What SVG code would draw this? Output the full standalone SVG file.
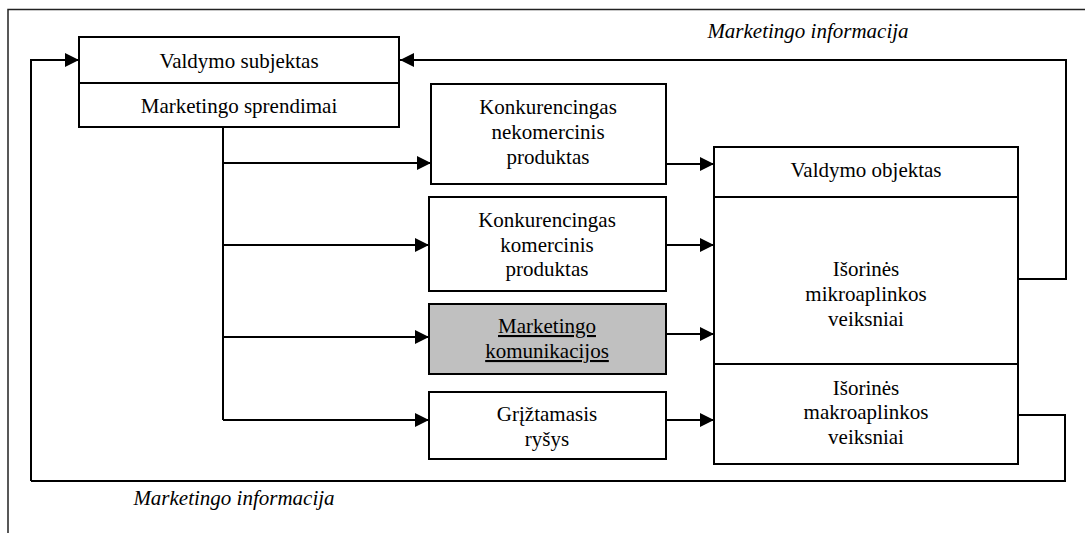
<svg xmlns="http://www.w3.org/2000/svg" width="1085" height="533" viewBox="0 0 1085 533">
<defs>
<style>
.box{fill:#fff;stroke:#000;stroke-width:2}
.gray{fill:#c0c0c0;stroke:#000;stroke-width:2}
.div{stroke:#000;stroke-width:2;fill:none}
.t{font-size:21px;fill:#000;text-anchor:middle}
.it{font-size:21px;font-style:italic;fill:#000;text-anchor:middle}
.c{stroke:#000;stroke-width:2;fill:none}
.a{stroke:#000;stroke-width:2;fill:none;marker-end:url(#ah)}
.frame{stroke:#222;stroke-width:1.5;fill:none}
</style>
<marker id="ah" markerUnits="userSpaceOnUse" markerWidth="14" markerHeight="14" refX="14" refY="7" orient="auto">
<path d="M0,0 L14,7 L0,14 z" fill="#000"/>
</marker>
</defs>
<rect width="1085" height="533" fill="#fff"/>
<path class="frame" d="M8,533 L8,9.5 L1085,9.5"/>

<g id="connectors">
<path class="a" d="M31,481 L31,60 L79,60"/>
<path class="c" d="M1016,415 L1065,415 L1065,481 L31,481"/>
<path class="a" d="M1018,279 L1066,279 L1066,60 L400,60"/>
<path class="c" d="M223,127 L223,420"/>
<path class="a" d="M223,163 L431,163"/>
<path class="a" d="M223,245 L429,245"/>
<path class="a" d="M223,337 L429,337"/>
<path class="a" d="M223,420 L429,420"/>
<path class="a" d="M666,164 L714,164"/>
<path class="a" d="M666,245 L714,245"/>
<path class="a" d="M666,334 L714,334"/>
<path class="a" d="M666,420 L714,420"/>
</g>

<g font-family="'Liberation Serif', 'Times New Roman', 'DejaVu Serif', serif">
<g id="subjektas">
<rect class="box" x="79" y="37" width="320" height="90"/>
<line class="div" x1="79" y1="83" x2="399" y2="83"/>
<text class="t" x="239" y="68">Valdymo subjektas</text>
<text class="t" x="239" y="113">Marketingo sprendimai</text>
</g>

<g id="nekomercinis">
<rect class="box" x="431" y="84" width="235" height="100"/>
<text class="t" x="548" y="114">Konkurencingas</text>
<text class="t" x="548" y="139">nekomercinis</text>
<text class="t" x="548" y="164">produktas</text>
</g>

<g id="komercinis">
<rect class="box" x="429" y="197" width="237" height="94"/>
<text class="t" x="547" y="227">Konkurencingas</text>
<text class="t" x="547" y="252">komercinis</text>
<text class="t" x="547" y="276">produktas</text>
</g>

<g id="komunikacijos">
<rect class="gray" x="429" y="304" width="237" height="70"/>
<text class="t" x="547" y="333" text-decoration="underline">Marketingo</text>
<text class="t" x="547" y="358" text-decoration="underline">komunikacijos</text>
</g>

<g id="grizt">
<rect class="box" x="429" y="392" width="237" height="67"/>
<text class="t" x="547" y="421">Grįžtamasis</text>
<text class="t" x="547" y="446">ryšys</text>
</g>

<g id="objektas">
<rect class="box" x="714" y="147" width="304" height="317"/>
<line class="div" x1="714" y1="197" x2="1018" y2="197"/>
<line class="div" x1="714" y1="364" x2="1018" y2="364"/>
<text class="t" x="866" y="177">Valdymo objektas</text>
<text class="t" x="866" y="276">Išorinės</text>
<text class="t" x="866" y="301">mikroaplinkos</text>
<text class="t" x="866" y="326">veiksniai</text>
<text class="t" x="866" y="395">Išorinės</text>
<text class="t" x="866" y="419">makroaplinkos</text>
<text class="t" x="866" y="444">veiksniai</text>
</g>

<g id="labels">
<text class="it" x="808" y="38">Marketingo informacija</text>
<text class="it" x="234" y="505">Marketingo informacija</text>
</g>
</g>
</svg>
